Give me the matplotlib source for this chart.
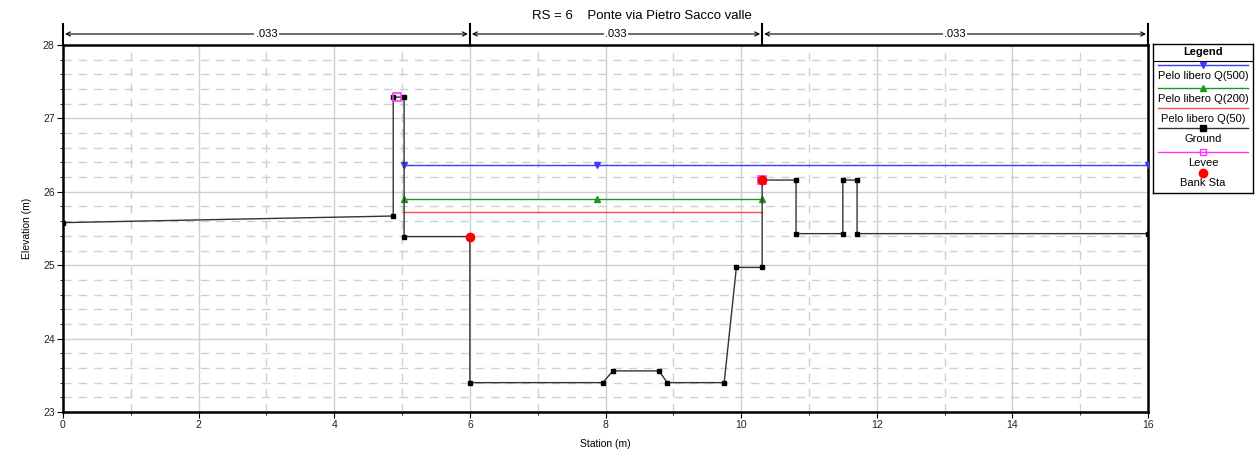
import numpy as np
import matplotlib.pyplot as plt
from matplotlib.ticker import MultipleLocator
import matplotlib.transforms as mtransforms

plt.rcParams['font.family'] = ['Liberation Sans', 'DejaVu Sans']
plt.rcParams['font.size'] = 7.5

# ground profile
ground_x = [0.0, 4.87, 4.87, 5.03, 5.03, 6.0, 6.0, 7.96, 8.11, 8.79, 8.91, 9.75, 9.93, 10.31, 10.31,
            10.81, 10.81, 11.50, 11.50, 11.71, 11.71, 16.0]
ground_y = [25.58, 25.67, 27.29, 27.29, 25.39, 25.39, 23.40, 23.40, 23.56, 23.56, 23.40, 23.40, 24.97, 24.97, 26.16,
            26.16, 25.43, 25.43, 26.16, 26.16, 25.43, 25.43]

# water surfaces
q500_x = [5.03, 7.87, 16.0]
q500_y = [26.37, 26.37, 26.37]
q200_x = [5.03, 7.87, 10.31]
q200_y = [25.90, 25.90, 25.90]
q50_x = [5.03, 10.31]
q50_y = [25.73, 25.73]

levee_x = [4.93, 10.31]
levee_y = [27.29, 26.16]
bank_x = [6.0, 10.31]
bank_y = [25.39, 26.16]

# manning's n
n_edges = [0.0, 6.0, 10.31, 16.0]
n_vals = ['.033', '.033', '.033']

c_blue = '#3c3cff'
c_green = '#1a9a1a'
c_red = '#ff4a4a'
c_mag = '#ff33ff'

fig = plt.figure(figsize=(12.58, 4.59), dpi=100)
ax = fig.add_axes([63/1258, 1-412/459, (1148-63)/1258, (412-45)/459])

ax.plot(q500_x, q500_y, color=c_blue, lw=1, marker='v', ms=4, zorder=3)
ax.plot(q200_x, q200_y, color=c_green, lw=1, marker='^', ms=4, zorder=3)
ax.plot(q50_x, q50_y, color=c_red, lw=1, zorder=3)
ax.plot(ground_x, ground_y, color='#333333', lw=1, marker='s', ms=3.5,
        mfc='black', mec='black', zorder=4)
ax.plot(levee_x, levee_y, ls='none', marker='s', ms=6, mfc='none', mec=c_mag, mew=1.2, zorder=5)
ax.plot(bank_x, bank_y, ls='none', marker='o', ms=6, color='red', zorder=6)

ax.set_xlim(0, 16)
ax.set_ylim(23, 28)
ax.xaxis.set_major_locator(MultipleLocator(2))
ax.xaxis.set_minor_locator(MultipleLocator(1))
ax.yaxis.set_major_locator(MultipleLocator(1))
ax.yaxis.set_minor_locator(MultipleLocator(0.2))
ax.grid(which='major', color='#d0d0d0', lw=1, ls='-')
ax.grid(which='minor', color='#d0d0d0', lw=1, ls=(0, (6, 5)))
ax.set_axisbelow(True)
for s in ax.spines.values():
    s.set_linewidth(1.8)
ax.tick_params(which='major', length=4, width=0.8, pad=2, labelcolor='#222222')
ax.tick_params(which='minor', length=2, width=0.6)
ax.set_xlabel('Station (m)', labelpad=6)
ax.set_ylabel('Elevation (m)', labelpad=8)
ax.set_title('RS = 6    Ponte via Pietro Sacco valle', fontsize=9.5, pad=19, x=0.534)

# manning's n bar above the axes
trans = mtransforms.blended_transform_factory(ax.transData, ax.transAxes)
for xe in n_edges:
    ax.plot([xe, xe], [1.0, 1.058], transform=trans, color='black', lw=1.5, clip_on=False)
for i, lab in enumerate(n_vals):
    x0, x1 = n_edges[i], n_edges[i+1]
    ax.annotate('', xy=(x0 + 0.03, 1.03), xytext=(x1 - 0.03, 1.03), xycoords=trans, textcoords=trans,
                arrowprops=dict(arrowstyle='<->', color='black', lw=0.8, shrinkA=0, shrinkB=0))
    ax.text((x0 + x1) / 2, 1.03, lab, transform=trans, ha='center', va='center',
            fontsize=8, bbox=dict(fc='white', ec='none', pad=1))

# legend box
lg = fig.add_axes([1153/1258, 1-193/459, 100/1258, 149/459])
lg.set_xlim(0, 100)
lg.set_ylim(149, 0)
lg.set_xticks([])
lg.set_yticks([])
for s in lg.spines.values():
    s.set_linewidth(1.0)
lg.text(50, 8, 'Legend', ha='center', va='center', fontweight='bold', fontsize=8)
lg.plot([0, 100], [17, 17], color='black', lw=0.8)
entries = [
    ('Pelo libero Q(500)', c_blue, 'v', 'full', 21),
    ('Pelo libero Q(200)', c_green, '^', 'full', 44),
    ('Pelo libero Q(50)', c_red, None, 'full', 64),
    ('Ground', '#333333', 's', 'full', 84),
    ('Levee', c_mag, 's', 'none', 108),
]
for lab, col, mk, fill, yy in entries:
    mfc = 'black' if lab == 'Ground' else (col if fill == 'full' else 'none')
    lg.plot([5, 95], [yy, yy], color=col, lw=1)
    if mk:
        lg.plot([50], [yy], marker=mk, ms=4 if fill == 'full' else 5, color=col, mfc=mfc,
                mec='black' if lab == 'Ground' else col)
    lg.text(50, yy + 11, lab, ha='center', va='center', fontsize=8)
lg.plot([50], [129], marker='o', ms=6, color='red')
lg.text(50, 139, 'Bank Sta', ha='center', va='center', fontsize=8)

fig.savefig('out.png', dpi=100)
